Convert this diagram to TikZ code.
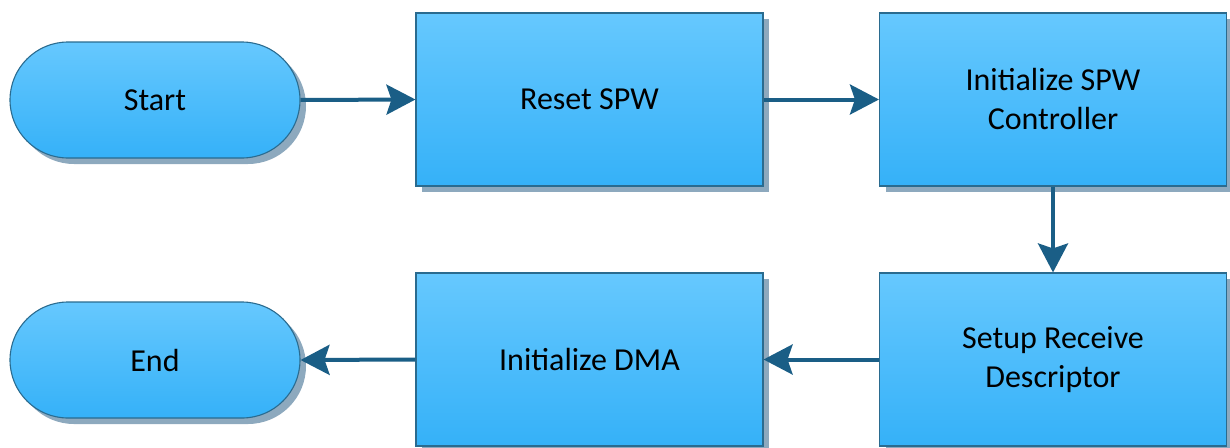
\documentclass[tikz,border=0pt]{standalone}
\usepackage{fontspec}
\setmainfont{Carlito}
\usetikzlibrary{arrows.meta,shadows}
\definecolor{topc}{HTML}{66C8FE}
\definecolor{botc}{HTML}{35B1F8}
\definecolor{edgec}{HTML}{2A6B8F}
\definecolor{shadc}{HTML}{8DA9BE}
\definecolor{arrc}{HTML}{1A5E86}
\tikzset{
  base/.style={draw=edgec, line width=1.1pt, top color=topc, bottom color=botc,
    general shadow={shadow xshift=6pt, shadow yshift=-6pt, fill=shadc},
    align=center, font=\fontsize{32}{39}\selectfont, text=black, inner sep=0pt},
  procbox/.style={base, rectangle, minimum width=347pt, minimum height=173pt},
  termbox/.style={base, rectangle, rounded corners=58pt, minimum width=290pt, minimum height=116pt},
  flow/.style={draw=arrc, line width=4pt, -{Stealth[length=29pt, width=30pt, inset=5pt]}}
}
\begin{document}
\begin{tikzpicture}[x=1pt, y=-1pt]
\useasboundingbox (0,0) rectangle (1230,447);
\node[termbox] (start) at (155,100) {Start};
\node[procbox] (reset) at (589.5,99.5) {Reset SPW};
\node[procbox] (init) at (1053,99.5) {Initialize SPW\\Controller};
\node[procbox] (setup) at (1053,359.5) {Setup Receive\\Descriptor};
\node[procbox] (dma) at (589.5,359.5) {Initialize DMA};
\node[termbox] (end) at (155,360) {End};
\draw[flow] (start.east) -- (reset.west);
\draw[flow] (reset.east) -- (init.west);
\draw[flow] (init.south) -- (setup.north);
\draw[flow] (setup.west) -- (dma.east);
\draw[flow] (dma.west) -- (end.east);
\end{tikzpicture}
\end{document}
